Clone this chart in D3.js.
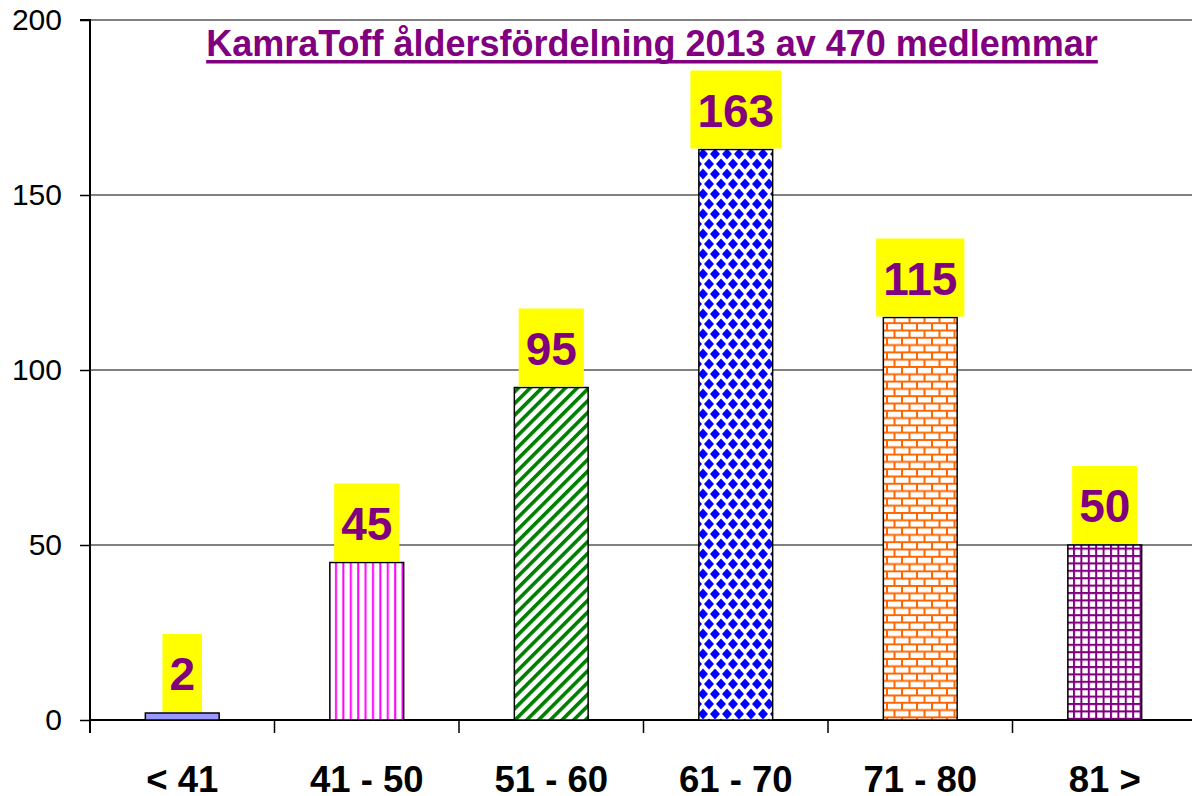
<!DOCTYPE html>
<html>
<head>
<meta charset="utf-8">
<script src="https://cdn.jsdelivr.net/npm/d3@7"></script>
<style>
  body { margin: 0; background: #fff; }
  svg { display: block; font-family: "Liberation Sans", Arial, sans-serif; }
</style>
</head>
<body>
<div id="chart"></div>
<script>
// chart data
var categories = ["< 41", "41 - 50", "51 - 60", "61 - 70", "71 - 80", "81 >"];
var values = [2, 45, 95, 163, 115, 50];
var yTicks = [0, 50, 100, 150, 200];
var title = "KamraToff åldersfördelning 2013 av 470 medlemmar";

function init() {
    var w = 1192, h = 796;

    var svg = d3.select("#chart")
        .append("svg")
        .attr("width", w)
        .attr("height", h);

    var xScale = d3.scaleBand()
        .domain(categories)
        .range([90, 1197])
        .padding(0);

    var yScale = d3.scaleLinear()
        .domain([0, 200])
        .range([720, 20]);

    // fill patterns
    var defs = svg.append("defs");

    // vertical magenta lines
    var p1 = defs.append("pattern").attr("id", "pVert")
        .attr("patternUnits", "userSpaceOnUse").attr("width", 7.4).attr("height", 10);
    p1.append("rect").attr("width", 7.4).attr("height", 10).attr("fill", "#fff");
    p1.append("rect").attr("x", 2).attr("width", 2).attr("height", 10).attr("fill", "#ff00ff");

    // green diagonal stripes
    var p2 = defs.append("pattern").attr("id", "pDiag")
        .attr("patternUnits", "userSpaceOnUse").attr("width", 8.3).attr("height", 10)
        .attr("patternTransform", "rotate(45)");
    p2.append("rect").attr("width", 8.3).attr("height", 10).attr("fill", "#fff");
    p2.append("rect").attr("x", 0).attr("width", 3.6).attr("height", 10).attr("fill", "#008000");

    // blue diamonds
    var p3 = defs.append("pattern").attr("id", "pDiamond")
        .attr("patternUnits", "userSpaceOnUse").attr("width", 12).attr("height", 20)
        .attr("x", 1).attr("y", 4);
    p3.append("rect").attr("width", 12).attr("height", 20).attr("fill", "#fff");
    [[6, 10], [0, 0], [12, 0], [0, 20], [12, 20]].forEach(function (c) {
        p3.append("polygon")
            .attr("points", [[c[0], c[1] - 5.4], [c[0] + 5, c[1]], [c[0], c[1] + 5.4], [c[0] - 5, c[1]]].join(" "))
            .attr("fill", "#0000ff");
    });

    // orange bricks
    var p4 = defs.append("pattern").attr("id", "pBrick")
        .attr("patternUnits", "userSpaceOnUse").attr("width", 15).attr("height", 14.6)
        .attr("x", 0).attr("y", 1);
    p4.append("rect").attr("width", 15).attr("height", 14.6).attr("fill", "#fff");
    p4.append("path")
        .attr("d", "M0,1 H15 M0,8.3 H15 M2,1 V8.3 M9.5,8.3 V15.6")
        .attr("stroke", "#ff6600").attr("stroke-width", 2).attr("fill", "none");

    // purple grid
    var p5 = defs.append("pattern").attr("id", "pGrid")
        .attr("patternUnits", "userSpaceOnUse").attr("width", 7.4).attr("height", 7.4);
    p5.append("rect").attr("width", 7.4).attr("height", 7.4).attr("fill", "#fff");
    p5.append("path")
        .attr("d", "M0,1 H7.4 M1,0 V7.4")
        .attr("stroke", "#800080").attr("stroke-width", 2).attr("fill", "none");

    var fills = ["#9999ff", "url(#pVert)", "url(#pDiag)", "url(#pDiamond)", "url(#pBrick)", "url(#pGrid)"];

    // gridlines
    svg.append("g")
        .selectAll("line")
        .data(yTicks.filter(function (d) { return d > 0; }))
        .enter()
        .append("line")
        .attr("x1", 90).attr("x2", w)
        .attr("y1", function (d) { return yScale(d); })
        .attr("y2", function (d) { return yScale(d); })
        .attr("stroke", "#808080")
        .attr("stroke-width", 2);

    // y axis
    var yAxis = d3.axisLeft(yScale)
        .tickValues(yTicks)
        .tickSize(10)
        .tickPadding(18);

    var gy = svg.append("g")
        .attr("transform", "translate(90,0)")
        .call(yAxis);
    gy.select(".domain").attr("d", "M-10,20 H0 V733").attr("stroke", "#000").attr("stroke-width", 2);
    gy.selectAll(".tick line").attr("stroke", "#000").attr("stroke-width", 1.5);
    gy.selectAll(".tick text")
        .attr("font-size", 30)
        .attr("font-family", "Liberation Sans, Arial, sans-serif")
        .attr("fill", "#000");

    // x axis
    var xAxis = d3.axisBottom(xScale)
        .tickSize(0)
        .tickPadding(46);

    var gx = svg.append("g")
        .attr("transform", "translate(0,720)")
        .call(xAxis);
    gx.select(".domain").attr("d", "M90,0 H" + w).attr("stroke", "#000").attr("stroke-width", 2);
    gx.selectAll(".tick text")
        .attr("font-size", 36.5)
        .attr("font-weight", "bold")
        .attr("font-family", "Liberation Sans, Arial, sans-serif")
        .attr("fill", "#000");

    // band separators
    gx.selectAll(".sep")
        .data(categories.slice(1))
        .enter()
        .append("line")
        .attr("class", "sep")
        .attr("x1", function (d) { return xScale(d); })
        .attr("x2", function (d) { return xScale(d); })
        .attr("y1", 0).attr("y2", 13)
        .attr("stroke", "#000").attr("stroke-width", 1.5);

    // bars
    var bw = xScale.bandwidth() * 0.4;
    svg.selectAll("rect.bar")
        .data(values)
        .enter()
        .append("rect")
        .attr("class", "bar")
        .attr("x", function (d, i) { return xScale(categories[i]) + (xScale.bandwidth() - bw) / 2; })
        .attr("y", function (d) { return yScale(d); })
        .attr("width", bw)
        .attr("height", function (d) { return 720 - yScale(d); })
        .attr("fill", function (d, i) { return fills[i]; })
        .attr("stroke", "#000")
        .attr("stroke-width", 1.5);

    // value labels
    var labels = svg.selectAll("g.lbl")
        .data(values)
        .enter()
        .append("g")
        .attr("class", "lbl")
        .attr("transform", function (d, i) {
            return "translate(" + (xScale(categories[i]) + xScale.bandwidth() / 2) + "," + (yScale(d) - 1) + ")";
        });

    labels.append("rect").attr("class", "bg");
    labels.append("text")
        .attr("text-anchor", "middle")
        .attr("y", -22)
        .attr("font-size", 46)
        .attr("font-weight", "bold")
        .attr("fill", "#800080")
        .text(function (d) { return d; });
    labels.each(function () {
        var g = d3.select(this);
        var tw = g.select("text").node().getComputedTextLength();
        g.select("rect.bg")
            .attr("x", -tw / 2 - 7)
            .attr("y", -78)
            .attr("width", tw + 14)
            .attr("height", 78)
            .attr("fill", "#ffff00");
    });

    // title
    var t = svg.append("text")
        .attr("x", 652)
        .attr("y", 56)
        .attr("text-anchor", "middle")
        .attr("font-size", 36)
        .attr("font-weight", "bold")
        .attr("fill", "#800080")
        .text(title);
    var tw = t.node().getComputedTextLength();
    svg.append("rect")
        .attr("x", 652 - tw / 2)
        .attr("y", 60)
        .attr("width", tw)
        .attr("height", 3.5)
        .attr("fill", "#800080");
}

window.onload = init;
</script>
</body>
</html>
